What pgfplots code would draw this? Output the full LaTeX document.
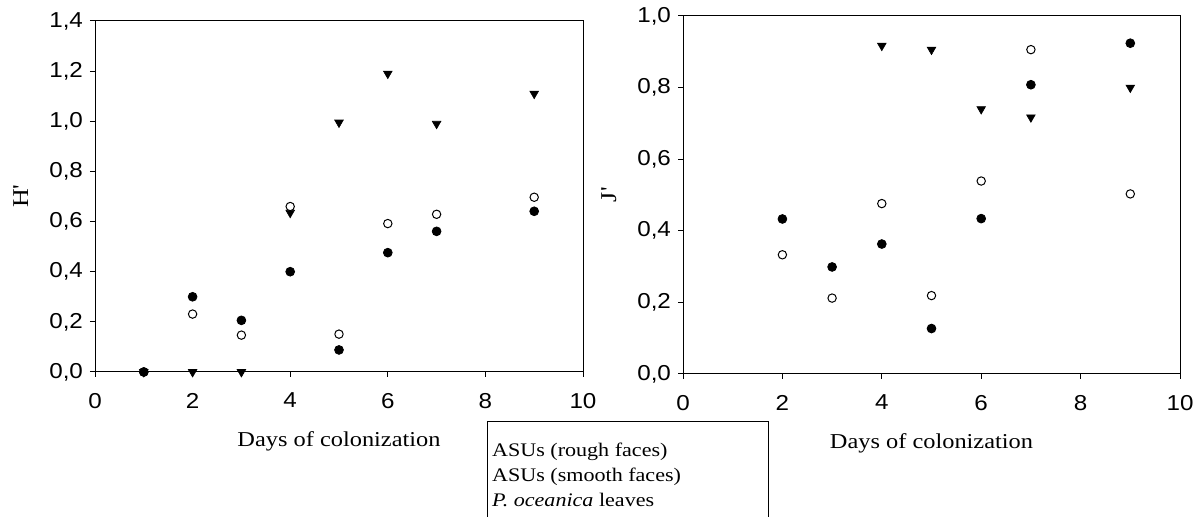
\documentclass[border=0pt]{standalone}
\usepackage{fontspec}
\setmainfont{Liberation Serif}[FakeStretch=1.15]
\newfontfamily\ticksf{Liberation Sans}[FakeStretch=1.12]
\usepackage{pgfplots}
\pgfplotsset{compat=1.18}

\pgfplotsset{
  divplot/.style={
    scale only axis,
    anchor=south west,
    xmin=0, xmax=10, ymin=0,
    xtick={0,2,...,10},
    tick align=outside, xtick pos=bottom, ytick pos=left,
    major tick length=2.5pt,
    axis line style={line width=0.5pt},
    every tick/.style={black, line width=0.5pt},
    tick label style={font=\ticksf\fontsize{10.8}{12}\selectfont},
    /pgf/number format/assume math mode=true,
    yticklabel style={/pgf/number format/.cd, fixed, fixed zerofill, precision=1, use comma, assume math mode=true},
    xticklabel style={yshift=-4.5pt},
    xlabel style={at={(axis description cs:0.5,0)}, anchor=base, yshift=-37.5pt,
      font=\fontsize{10.6}{12}\selectfont},
    ylabel style={at={([xshift=-33.5pt]axis description cs:0,0.5)}, anchor=base,
      font=\fontsize{11.3}{12}\selectfont},
  },
  rough/.style={black, only marks, mark=*, mark size=2.2pt,
    mark options={fill=black, draw=black, line width=0.4pt}},
  smooth/.style={black, only marks, mark=*, mark size=2.1pt,
    mark options={fill=white, draw=black, line width=0.5pt}},
  leaves/.style={black, only marks, mark=triangle*, mark size=2.5pt,
    mark options={rotate=180, fill=black, draw=black, line width=0.3pt}},
}

\begin{document}
\begin{tikzpicture}

% H' panel
\begin{axis}[divplot,
  at={(47.5pt,72.5pt)}, width=244pt, height=175.5pt,
  ymax=1.4, ytick={0,0.2,...,1.4},
  xlabel={Days of colonization},
  ylabel={H\textquotesingle},
  reverse legend,
  legend image code/.code={},
  legend cell align=left,
  legend style={at={(axis description cs:0.813,-0.2)}, anchor=north west, draw=none, fill=none,
    inner sep=0pt, row sep=3pt,
    nodes={inner sep=0pt, text height=7pt, text depth=2.5pt, anchor=base west},
    font=\fontsize{9.6}{11}\selectfont},
]
\addplot[leaves] coordinates {(1,0) (2,0) (3,0) (4,0.635) (5,0.995) (6,1.19) (7,0.99) (9,1.11)};
\addlegendentry{\textit{P. oceanica} leaves}
\addplot[smooth] coordinates {(1,0) (2,0.231) (3,0.147) (4,0.66) (5,0.151) (6,0.592) (7,0.629) (9,0.697)};
\addlegendentry{ASUs (smooth faces)}
\addplot[rough] coordinates {(1,0) (2,0.30) (3,0.206) (4,0.40) (5,0.088) (6,0.476) (7,0.561) (9,0.641)};
\addlegendentry{ASUs (rough faces)}
\end{axis}

% J' panel
\begin{axis}[divplot,
  at={(341.5pt,71.5pt)}, width=248.5pt, height=179pt,
  ymax=1.0, ytick={0,0.2,...,1.0},
  xlabel={Days of colonization},
  ylabel={J\textquotesingle},
]
\addplot[leaves] coordinates {(4,0.917) (5,0.906) (6,0.74) (7,0.717) (9,0.80)};
\addplot[smooth] coordinates {(2,0.333) (3,0.212) (4,0.476) (5,0.219) (6,0.539) (7,0.906) (9,0.503)};
\addplot[rough] coordinates {(2,0.433) (3,0.299) (4,0.363) (5,0.127) (6,0.434) (7,0.808) (9,0.924)};
\end{axis}

% legend frame, cut off at the bottom edge as in the original
\draw[line width=0.5pt] (243.5pt,-5pt) -- (243.5pt,47.5pt) -- (384pt,47.5pt) -- (384pt,-5pt);

\pgfresetboundingbox
\path[use as bounding box] (0,0) rectangle (600.5pt,258.5pt);
\end{tikzpicture}
\end{document}
